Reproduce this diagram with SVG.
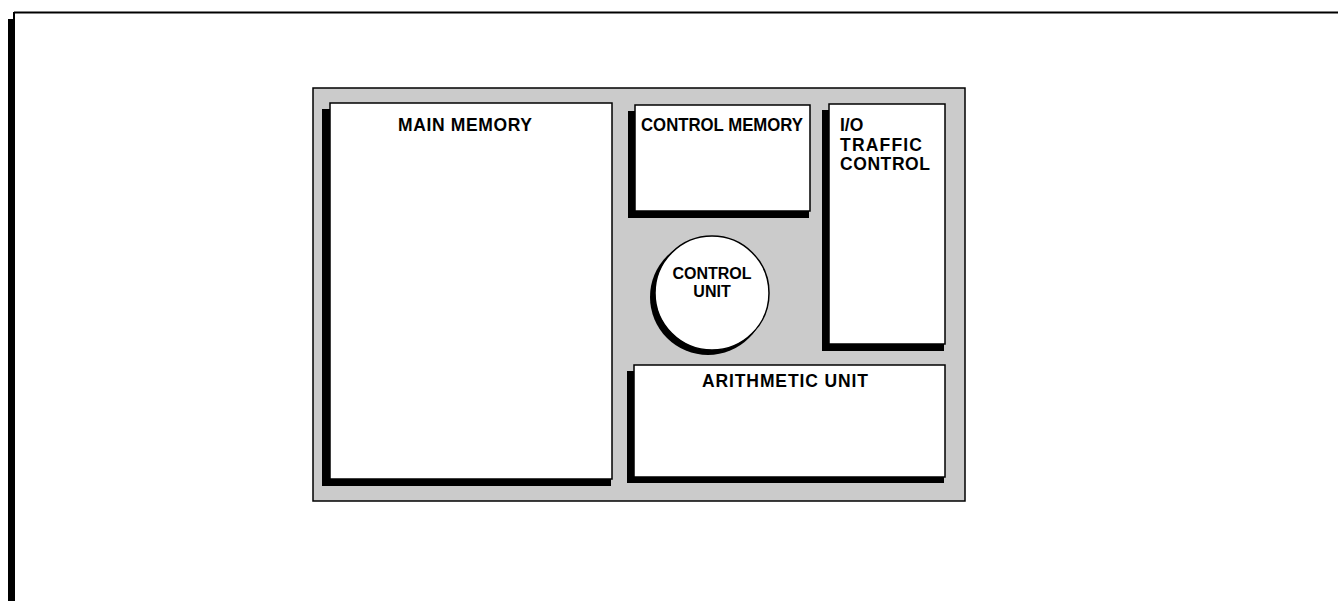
<svg xmlns="http://www.w3.org/2000/svg" width="1338" height="601" viewBox="0 0 1338 601">
<style>
.panel{fill:#cbcbcb;stroke:#000;stroke-width:1.5}
.shadow{fill:#000}
.box{fill:#fff;stroke:#000;stroke-width:1.5}
.lbl{font-family:"Liberation Sans",Arial,sans-serif;font-weight:bold;font-size:17.5px;fill:#000}
.sm{font-size:16px}
</style>
<rect x="0" y="0" width="1338" height="601" fill="#fff"/>
<g id="page-border">
<line x1="14" y1="12.5" x2="1338" y2="12.5" stroke="#000" stroke-width="2"/>
<rect x="8" y="19" width="7" height="582" fill="#000"/>
<line x1="14" y1="12" x2="14" y2="20" stroke="#000" stroke-width="2"/>
</g>
<g id="computer">
<rect class="panel" x="313" y="88" width="652" height="413"/>
</g>
<g id="main-memory">
<rect class="shadow" x="322" y="109" width="289" height="377"/>
<rect class="box" x="330" y="103" width="282" height="376"/>
<text class="lbl" x="398" y="131" textLength="134" lengthAdjust="spacing">MAIN MEMORY</text>
</g>
<g id="control-memory">
<rect class="shadow" x="628" y="111" width="181" height="107"/>
<rect class="box" x="635" y="105" width="175" height="106"/>
<text class="lbl" x="641" y="131" textLength="162" lengthAdjust="spacingAndGlyphs">CONTROL MEMORY</text>
</g>
<g id="io-traffic-control">
<rect class="shadow" x="822" y="110" width="122" height="241"/>
<rect class="box" x="829" y="104" width="116" height="240"/>
<text class="lbl" x="840" y="131">I/O</text>
<text class="lbl" x="840" y="151" textLength="82" lengthAdjust="spacing">TRAFFIC</text>
<text class="lbl" x="840" y="170" textLength="90" lengthAdjust="spacing">CONTROL</text>
</g>
<g id="control-unit">
<circle cx="708" cy="297" r="58" fill="#000"/>
<circle class="box" cx="712" cy="293" r="57"/>
<text class="lbl sm" x="712" y="279" text-anchor="middle">CONTROL</text>
<text class="lbl sm" x="712" y="297" text-anchor="middle">UNIT</text>
</g>
<g id="arithmetic-unit">
<rect class="shadow" x="627" y="371" width="317" height="112"/>
<rect class="box" x="634" y="365" width="311" height="112"/>
<text class="lbl" x="702" y="387" textLength="166" lengthAdjust="spacing">ARITHMETIC UNIT</text>
</g>
<g id="connectors"></g>
</svg>
